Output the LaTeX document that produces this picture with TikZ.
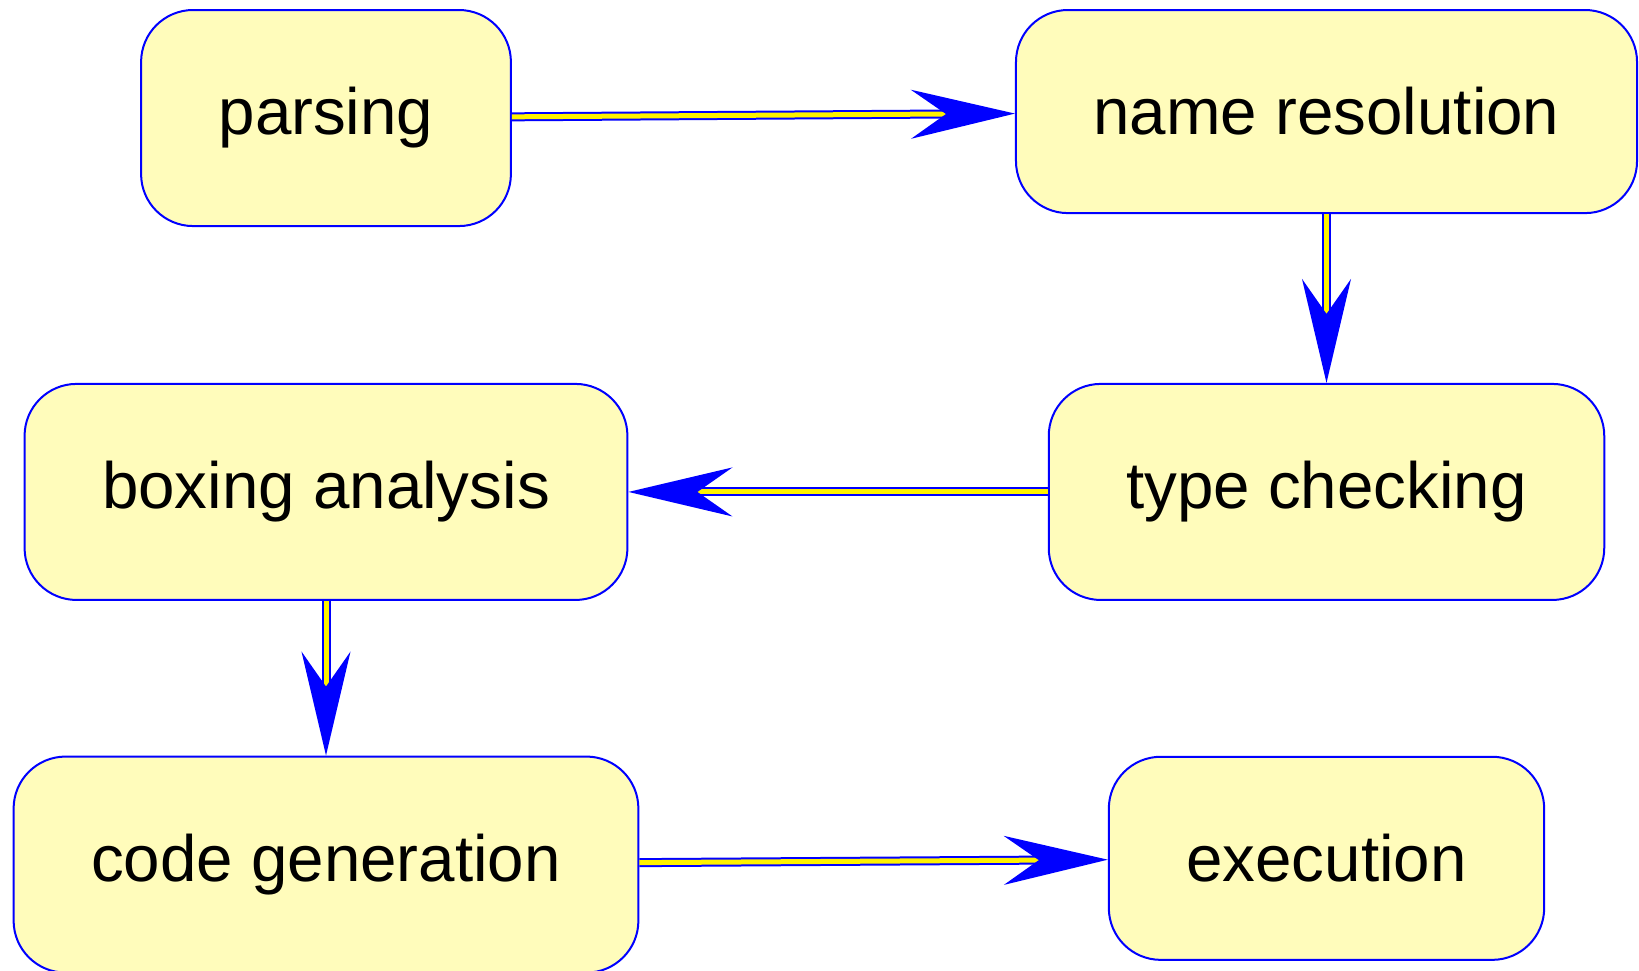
\documentclass[tikz,border=0pt]{standalone}
\usepackage{fontspec}
\setmainfont{Liberation Sans}
\usepackage{tikz}
\usetikzlibrary{arrows.meta,positioning}
\definecolor{stagefill}{RGB}{255,252,187}

\begin{document}
\begin{tikzpicture}[
      x=0.5pt, y=0.5pt,
      stage/.style={draw=blue, fill=stagefill, line width=1pt,
                    rounded corners=26pt, inner sep=38.75pt,
                    font=\fontsize{32.75pt}{39pt}\selectfont},
      flow/.style={-{Stealth[length=52pt, width=24.5pt, inset=17.5pt, color=blue]},
                   draw=blue, double=yellow, double distance=2.5pt, line width=1pt},
    ]
    \useasboundingbox (0,0) rectangle (1639,-970);

    % Top row
    \node[stage, anchor=north] (parsing) at (326,-9)    {parsing};
    \node[stage, anchor=north] (name)    at (1326.5,-9) {name resolution};

    % Middle row
    \node[stage, below=84.4pt of name]        (type)    {type checking};
    \node[stage] (boxing) at (parsing |- type)          {boxing analysis};

    % Bottom row
    \node[stage, below=77.3pt of boxing]      (codegen) {code generation};
    \node[stage, below=77.4pt of type]        (exec)    {execution};

    % Arrows
    \draw[flow] (parsing) -- (name);
    \draw[flow] (name)    -- (type);
    \draw[flow] (type)    -- (boxing);
    \draw[flow] (boxing)  -- (codegen);
    \draw[flow] (codegen) -- (exec);
\end{tikzpicture}
\end{document}
